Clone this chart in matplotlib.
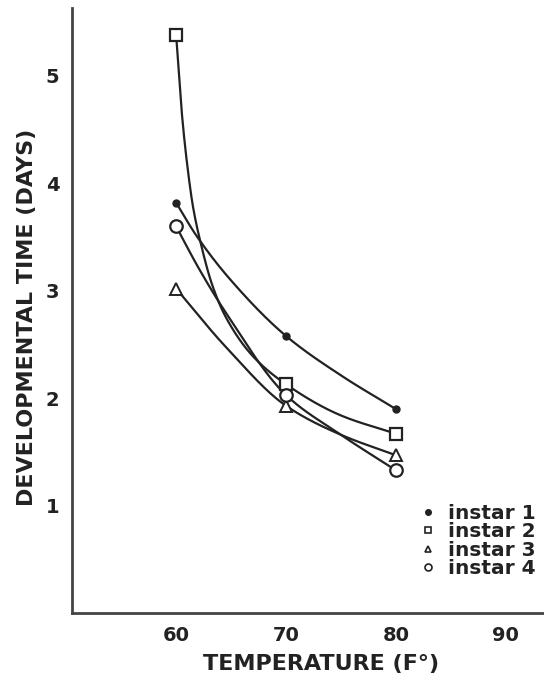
import numpy as np
import matplotlib
matplotlib.use("Agg")
import matplotlib.pyplot as plt
from matplotlib.lines import Line2D

# measured points (temperature F, days)
temps = [60, 70, 80]
instar1 = [3.82, 2.58, 1.90]
instar2 = [5.38, 2.13, 1.67]
instar3 = [3.02, 1.93, 1.47]
instar4 = [3.60, 2.03, 1.33]

# points
trace1_x = [60, 61.8, 64.8, 70, 75.2, 80]
trace1_y = [3.82, 3.52, 3.12, 2.58, 2.20, 1.90]
trace2_x = [60, 60.54, 61.0, 61.54, 62.2, 63.3, 64.6, 67, 70, 75, 80]
trace2_y = [5.38, 4.63, 4.18, 3.78, 3.46, 3.05, 2.74, 2.39, 2.13, 1.84, 1.67]
trace3_x = [60, 64.5, 70, 75, 80]
trace3_y = [3.02, 2.48, 1.93, 1.66, 1.47]
trace4_x = [60, 62, 64.5, 70, 75, 80]
trace4_y = [3.60, 3.22, 2.80, 2.03, 1.66, 1.33]

labels = ["instar 1", "instar 2", "instar 3", "instar 4"]
xticks = [60, 70, 80, 90]
yticks = [1, 2, 3, 4, 5]


def smooth(xs, ys, n=300):
    # monotone cubic (Fritsch-Carlson) just for drawing the curve
    x = np.asarray(xs, float)
    y = np.asarray(ys, float)
    h = np.diff(x)
    d = np.diff(y) / h
    m = np.zeros_like(y)
    m[0], m[-1] = d[0], d[-1]
    for i in range(1, len(x) - 1):
        if d[i - 1] * d[i] > 0:
            w1 = 2 * h[i] + h[i - 1]
            w2 = h[i] + 2 * h[i - 1]
            m[i] = (w1 + w2) / (w1 / d[i - 1] + w2 / d[i])
    xx = np.linspace(x[0], x[-1], n)
    k = np.clip(np.searchsorted(x, xx) - 1, 0, len(x) - 2)
    t = (xx - x[k]) / h[k]
    h00 = 2 * t**3 - 3 * t**2 + 1
    h10 = t**3 - 2 * t**2 + t
    h01 = -2 * t**3 + 3 * t**2
    h11 = t**3 - t**2
    yy = h00 * y[k] + h10 * h[k] * m[k] + h01 * y[k + 1] + h11 * h[k] * m[k + 1]
    return xx, yy


ink = "#222222"
plt.rcParams["font.family"] = ["DejaVu Sans"]
plt.rcParams["font.weight"] = "bold"

fig = plt.figure(figsize=(5.44, 6.82), dpi=100)
ax = fig.add_axes([0.132, 0.101, 0.868, 0.887])

for tx, ty in [(trace1_x, trace1_y), (trace2_x, trace2_y),
               (trace3_x, trace3_y), (trace4_x, trace4_y)]:
    xx, yy = smooth(tx, ty)
    ax.plot(xx, yy, color=ink, lw=1.6, solid_capstyle="round")

ax.plot(temps, instar1, "o", ms=5, color=ink, zorder=3)
ax.plot(temps, instar2, "s", ms=9, mfc="white", mec=ink, mew=1.6, zorder=3)
ax.plot(temps, instar3, "^", ms=9, mfc="white", mec=ink, mew=1.4, zorder=3)
ax.plot(temps, instar4, "o", ms=9, mfc="white", mec=ink, mew=1.6, zorder=3)

ax.set_xlim(50.5, 93.5)
ax.set_ylim(0, 5.63)
ax.set_xticks(xticks)
ax.set_yticks(yticks)
ax.tick_params(length=0, labelsize=14, colors=ink)
ax.tick_params(axis="y", pad=9)
ax.tick_params(axis="x", pad=9)
for s in ["top", "right"]:
    ax.spines[s].set_visible(False)
for s in ["left", "bottom"]:
    ax.spines[s].set_linewidth(2)
    ax.spines[s].set_color("#444444")

ax.set_xlabel("TEMPERATURE (F°)", fontsize=16, fontweight="bold", color=ink)
ax.set_ylabel("DEVELOPMENTAL TIME (DAYS)", fontsize=16, fontweight="bold", color=ink)
ax.xaxis.set_label_coords(0.528, -0.068)
ax.yaxis.set_label_coords(-0.074, 0.489)

handles = [
    Line2D([], [], ls="", marker="o", ms=4, color=ink),
    Line2D([], [], ls="", marker="s", ms=5, mfc="white", mec=ink, mew=1.2),
    Line2D([], [], ls="", marker="^", ms=5, mfc="white", mec=ink, mew=1.2),
    Line2D([], [], ls="", marker="o", ms=5, mfc="white", mec=ink, mew=1.2),
]
leg = fig.legend(handles, labels, loc="upper left", bbox_to_anchor=(0.757, 0.273),
                 frameon=False, fontsize=14.5, handlelength=0.8, handletextpad=0.6,
                 labelspacing=-0.03, borderaxespad=0)
for t in leg.get_texts():
    t.set_color(ink)

fig.savefig("out.png", dpi=100)
